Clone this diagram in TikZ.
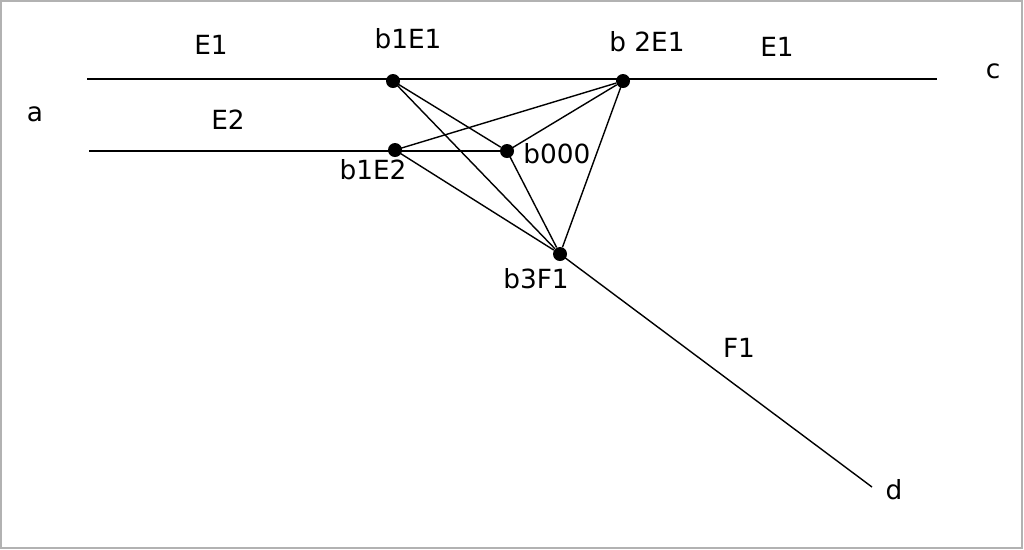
\documentclass[tikz,border=0pt]{standalone}
\usepackage{fontspec}
\setmainfont{DejaVu Sans}

\begin{document}
\begin{tikzpicture}[x=0.02cm,y=-0.02cm,
  pt/.style={circle,fill,inner sep=0pt,minimum size=0.28cm},
  lbl/.style={inner sep=0pt,font=\fontsize{15}{17}\selectfont}]
\useasboundingbox (0,0) rectangle (1024,549);
\draw[gray!60,line width=1pt] (1,1) rectangle (1022,548);

\node[pt] (b1E1) at (393,81) {};
\node[pt] (b2E1) at (623,81) {};
\node[pt] (b1E2) at (395,150) {};
\node[pt] (b000) at (507,151) {};
\node[pt] (b3F1) at (560,254) {};
\coordinate (A1) at (87,79);
\coordinate (C1) at (937,79);
\coordinate (A2) at (89,151);
\coordinate (D) at (872,487);

\node[lbl] (tE1) at (211,45) {E1};
\node[lbl] (tE1b) at (777,47) {E1};
\node[lbl] (tE2) at (228,120) {E2};
\node[lbl] (tF1) at (739,348) {F1};
\node[lbl] (ta) at (35,114) {a};
\node[lbl] (tc) at (993,71) {c};
\node[lbl] (td) at (894,490) {d};
\node[lbl] (lb1E1) at (408,39) {b1E1};
\node[lbl] (lb2E1) at (647,42) {b 2E1};
\node[lbl] (lb1E2) at (373,170) {b1E2};
\node[lbl] (lb000) at (557,154) {b000};
\node[lbl] (lb3F1) at (536,279) {b3F1};

\draw[line width=1.3pt] (A1) -- (C1);
\draw[line width=1.3pt] (A2) -- (b000.center);

\foreach \u/\v in {b1E1/b000,b1E1/b3F1,b1E2/b2E1,b1E2/b3F1,b000/b2E1,b000/b3F1,b2E1/b3F1,b3F1/D} {
  \draw[line width=0.8pt] (\u.center) -- (\v);
}
\end{tikzpicture}
\end{document}
